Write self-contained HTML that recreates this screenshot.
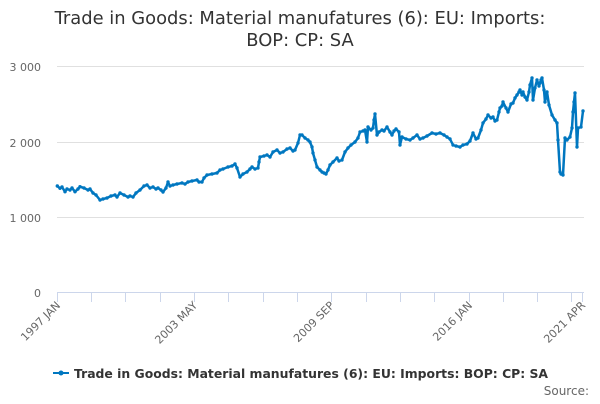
<!DOCTYPE html>
<html><head><meta charset="utf-8"><style>
body{margin:0;width:600px;height:400px;background:#fff;font-family:"DejaVu Sans",sans-serif;overflow:hidden}
</style></head><body>
<svg width="600" height="400" xmlns="http://www.w3.org/2000/svg" font-family="DejaVu Sans, sans-serif">
<defs><marker id="m" markerWidth="4" markerHeight="4" refX="2" refY="2" markerUnits="userSpaceOnUse"><circle cx="2" cy="2" r="1.7" fill="#0077c0"/></marker></defs>
<text x="300" y="24" text-anchor="middle" font-size="17.9" fill="#333">Trade in Goods: Material manufatures (6): EU: Imports:</text>
<text x="300" y="46" text-anchor="middle" font-size="17.9" fill="#333">BOP: CP: SA</text>
<g stroke="#e0e0e0" stroke-width="1">
<line x1="57" y1="66.5" x2="584" y2="66.5"/>
<line x1="57" y1="142.5" x2="584" y2="142.5"/>
<line x1="57" y1="217.5" x2="584" y2="217.5"/>
</g>
<line x1="57" y1="292.5" x2="584" y2="292.5" stroke="#ccd6eb"/>
<g stroke="#ccd6eb">
<line x1="57.5" y1="292" x2="57.5" y2="302"/><line x1="91.5" y1="292" x2="91.5" y2="302"/><line x1="125.5" y1="292" x2="125.5" y2="302"/><line x1="160.5" y1="292" x2="160.5" y2="302"/><line x1="194.5" y1="292" x2="194.5" y2="302"/><line x1="228.5" y1="292" x2="228.5" y2="302"/><line x1="263.5" y1="292" x2="263.5" y2="302"/><line x1="297.5" y1="292" x2="297.5" y2="302"/><line x1="331.5" y1="292" x2="331.5" y2="302"/><line x1="366.5" y1="292" x2="366.5" y2="302"/><line x1="400.5" y1="292" x2="400.5" y2="302"/><line x1="434.5" y1="292" x2="434.5" y2="302"/><line x1="469.5" y1="292" x2="469.5" y2="302"/><line x1="503.5" y1="292" x2="503.5" y2="302"/><line x1="537.5" y1="292" x2="537.5" y2="302"/><line x1="571.5" y1="292" x2="571.5" y2="302"/><line x1="582.5" y1="292" x2="582.5" y2="302"/>
</g>
<g font-size="11" fill="#666" text-anchor="end">
<text x="41" y="71">3 000</text><text x="41" y="147">2 000</text><text x="41" y="222">1 000</text><text x="41" y="297">0</text>
</g>
<g font-size="11" fill="#666" text-anchor="end">
<text transform="translate(61,306) rotate(-45)">1997 JAN</text>
<text transform="translate(198,306) rotate(-45)">2003 MAY</text>
<text transform="translate(335,306) rotate(-45)">2009 SEP</text>
<text transform="translate(473,306) rotate(-45)">2016 JAN</text>
<text transform="translate(586,306) rotate(-45)">2021 APR</text>
</g>
<polyline fill="none" stroke="#0077c0" stroke-width="2.5" stroke-linejoin="round" marker-start="url(#m)" marker-mid="url(#m)" marker-end="url(#m)" points="57.3,186 60,188.3 62,187 65,191.7 67,189 70,190 72,188 75,191.7 78,189 80,186.7 84,188 88,190 90,189 93,193 96,195 100,200 103,199 107,198 111,196 115,195 117,197 120,193 124,195 128,197 130,196 133,197 136,193 140,190 144,186 147,185 150,188 153,187 156,189 158,188 161,190 163,192 166,188 168,182 170,186 173,185 177,184 182,183 185,184 188,182 192,181 197,180 199,182 202,182 204,178 207,175 212,174 217,173 220,170 223,169 228,167 232,166 235,164 237,168 240,177 243,174 247,172 250,169 252,167 255,169 258,168 259,162 260,157 264,156 267,155 270,157 273,152 277,150 280,153 283,152 287,149 290,148 293,151 295,150 298,143 300,135 302,135 305,138 308,140 310,142 312,147 313,153 315,160 317,167 320,170 322,172 324,173 326,174 328,170 330,165 333,162 337,158 339,161 342,160 345,152 348,148 351,145 355,142 358,138 360,132 363,131 365,130 367,142 368,127 371,130 373,128 374,120 375,114 377,135 379,132 382,130 384,131 387,127 390,132 392,135 394,131 396,129 399,132 400,145 402,137 406,139 410,140 413,138 417,135 420,139 423,138 427,136 432,133 436,134 440,133 444,135 447,137 450,139 453,145 456,146 460,147 463,145 467,144 470,141 473,133 476,139 478,138 481,130 483,123 486,119 488,115 491,118 493,117 495,121 497,120 499,112 500,108 502,106 503,102 506,108 508,112 511,104 513,103 515,98 517,95 519,92 520,90 522,95 523,92 525,97 527,100 529,92 530,85 532,78 533,100 535,88 537,80 539,86 540,83 541,80 542,78 544,90 545,102 547,92 549,105 552,115 555,120 557,123 558,140 560,172 561,174 563,175 565,138 567,140 570,137 572,128 573,112 574,102 575,93 577,147 578,128 581,127 583,111"/>
<line x1="53" y1="373" x2="69" y2="373" stroke="#0077c0" stroke-width="2"/>
<circle cx="61" cy="373" r="2.5" fill="#0077c0"/>
<text x="74" y="378" font-size="12.4" font-weight="bold" fill="#333">Trade in Goods: Material manufatures (6): EU: Imports: BOP: CP: SA</text>
<text x="589" y="395" font-size="12" fill="#666" text-anchor="end">Source:</text>
</svg>
</body></html>
